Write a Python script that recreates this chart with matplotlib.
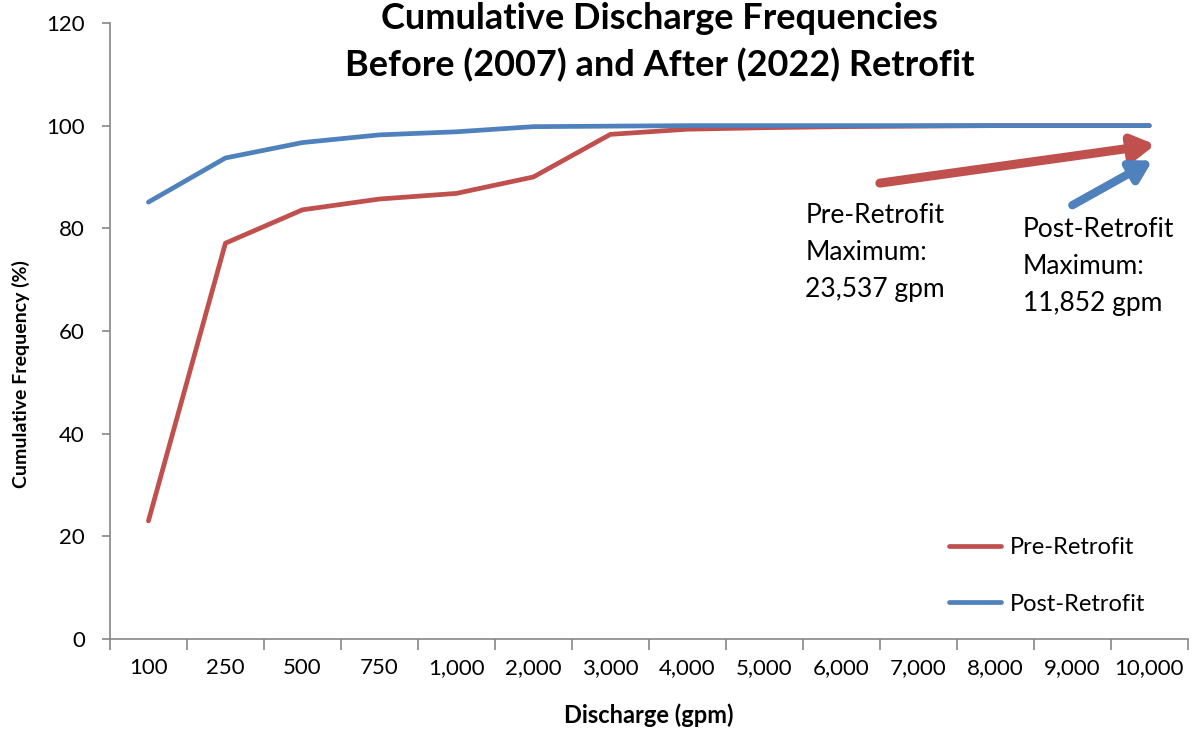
import numpy as np
import matplotlib.pyplot as plt

plt.rcParams['font.family'] = ['Lato', 'DejaVu Sans']

categories = ['100', '250', '500', '750', '1,000', '2,000', '3,000', '4,000',
              '5,000', '6,000', '7,000', '8,000', '9,000', '10,000']
pre_retrofit = [23.0, 77.1, 83.6, 85.7, 86.8, 90.0, 98.3, 99.3, 99.6, 99.8, 99.9, 100, 100, 100]
post_retrofit = [85.1, 93.7, 96.7, 98.2, 98.8, 99.8, 99.9, 100, 100, 100, 100, 100, 100, 100]

red = '#C0504D'
blue = '#4F81BD'
grey = '#868686'

fig = plt.figure(figsize=(11.95, 7.29), dpi=100)
ax = fig.add_axes([0.092, 0.1235, 0.902, 0.845])

x = np.arange(len(categories))
ax.plot(x, pre_retrofit, color=red, lw=3.4, solid_capstyle='round', label='Pre-Retrofit')
ax.plot(x, post_retrofit, color=blue, lw=3.4, solid_capstyle='round', label='Post-Retrofit')

ax.set_xlim(-0.5, len(categories) - 0.5)
ax.set_ylim(0, 120)
ax.set_yticks(range(0, 121, 20))
ax.tick_params(axis='y', labelsize=16, length=6, color=grey, width=1.2, pad=12)

# category labels centred, tick marks on category boundaries
ax.set_xticks(x)
ax.set_xticklabels(categories, fontsize=16)
ax.tick_params(axis='x', length=0, pad=14)
ax.set_xticks(np.arange(-0.5, len(categories)), minor=True)
ax.tick_params(axis='x', which='minor', length=8, color=grey, width=1.2)

for s in ['top', 'right']:
    ax.spines[s].set_visible(False)
for s in ['left', 'bottom']:
    ax.spines[s].set_color(grey)
    ax.spines[s].set_linewidth(1.2)

ax.set_xlabel('Discharge (gpm)', fontsize=17, fontweight='bold', labelpad=18)
ax.set_ylabel('Cumulative Frequency (%)', fontsize=14, fontweight='bold')
ax.yaxis.set_label_coords(-0.074, 0.43)

fig.text(0.552, 0.997, 'Cumulative Discharge Frequencies\nBefore (2007) and After (2022) Retrofit',
         ha='center', va='top', fontsize=26, fontweight='bold', linespacing=1.45)

# arrows pointing to the maximum values
ax.annotate('', xy=(13.08, 96.3), xytext=(9.5, 88.8),
            arrowprops=dict(arrowstyle='-|>,head_length=1.3,head_width=0.75', lw=6.5,
                            color=red, shrinkA=0, shrinkB=0))
ax.annotate('', xy=(13.04, 93.2), xytext=(12.0, 84.5),
            arrowprops=dict(arrowstyle='-|>,head_length=1.2,head_width=0.7', lw=6,
                            color=blue, shrinkA=0, shrinkB=0))

ax.text(8.53, 85.0, 'Pre-Retrofit\nMaximum:\n23,537 gpm', fontsize=19,
        va='top', ha='left', linespacing=1.6)
ax.text(11.36, 82.2, 'Post-Retrofit\nMaximum:\n11,852 gpm', fontsize=19,
        va='top', ha='left', linespacing=1.6)

ax.legend(loc='lower right', bbox_to_anchor=(0.98, 0.005), frameon=False, fontsize=17,
          handlelength=2.2, labelspacing=1.5, handletextpad=0.35)

fig.savefig('out.png', dpi=100)
